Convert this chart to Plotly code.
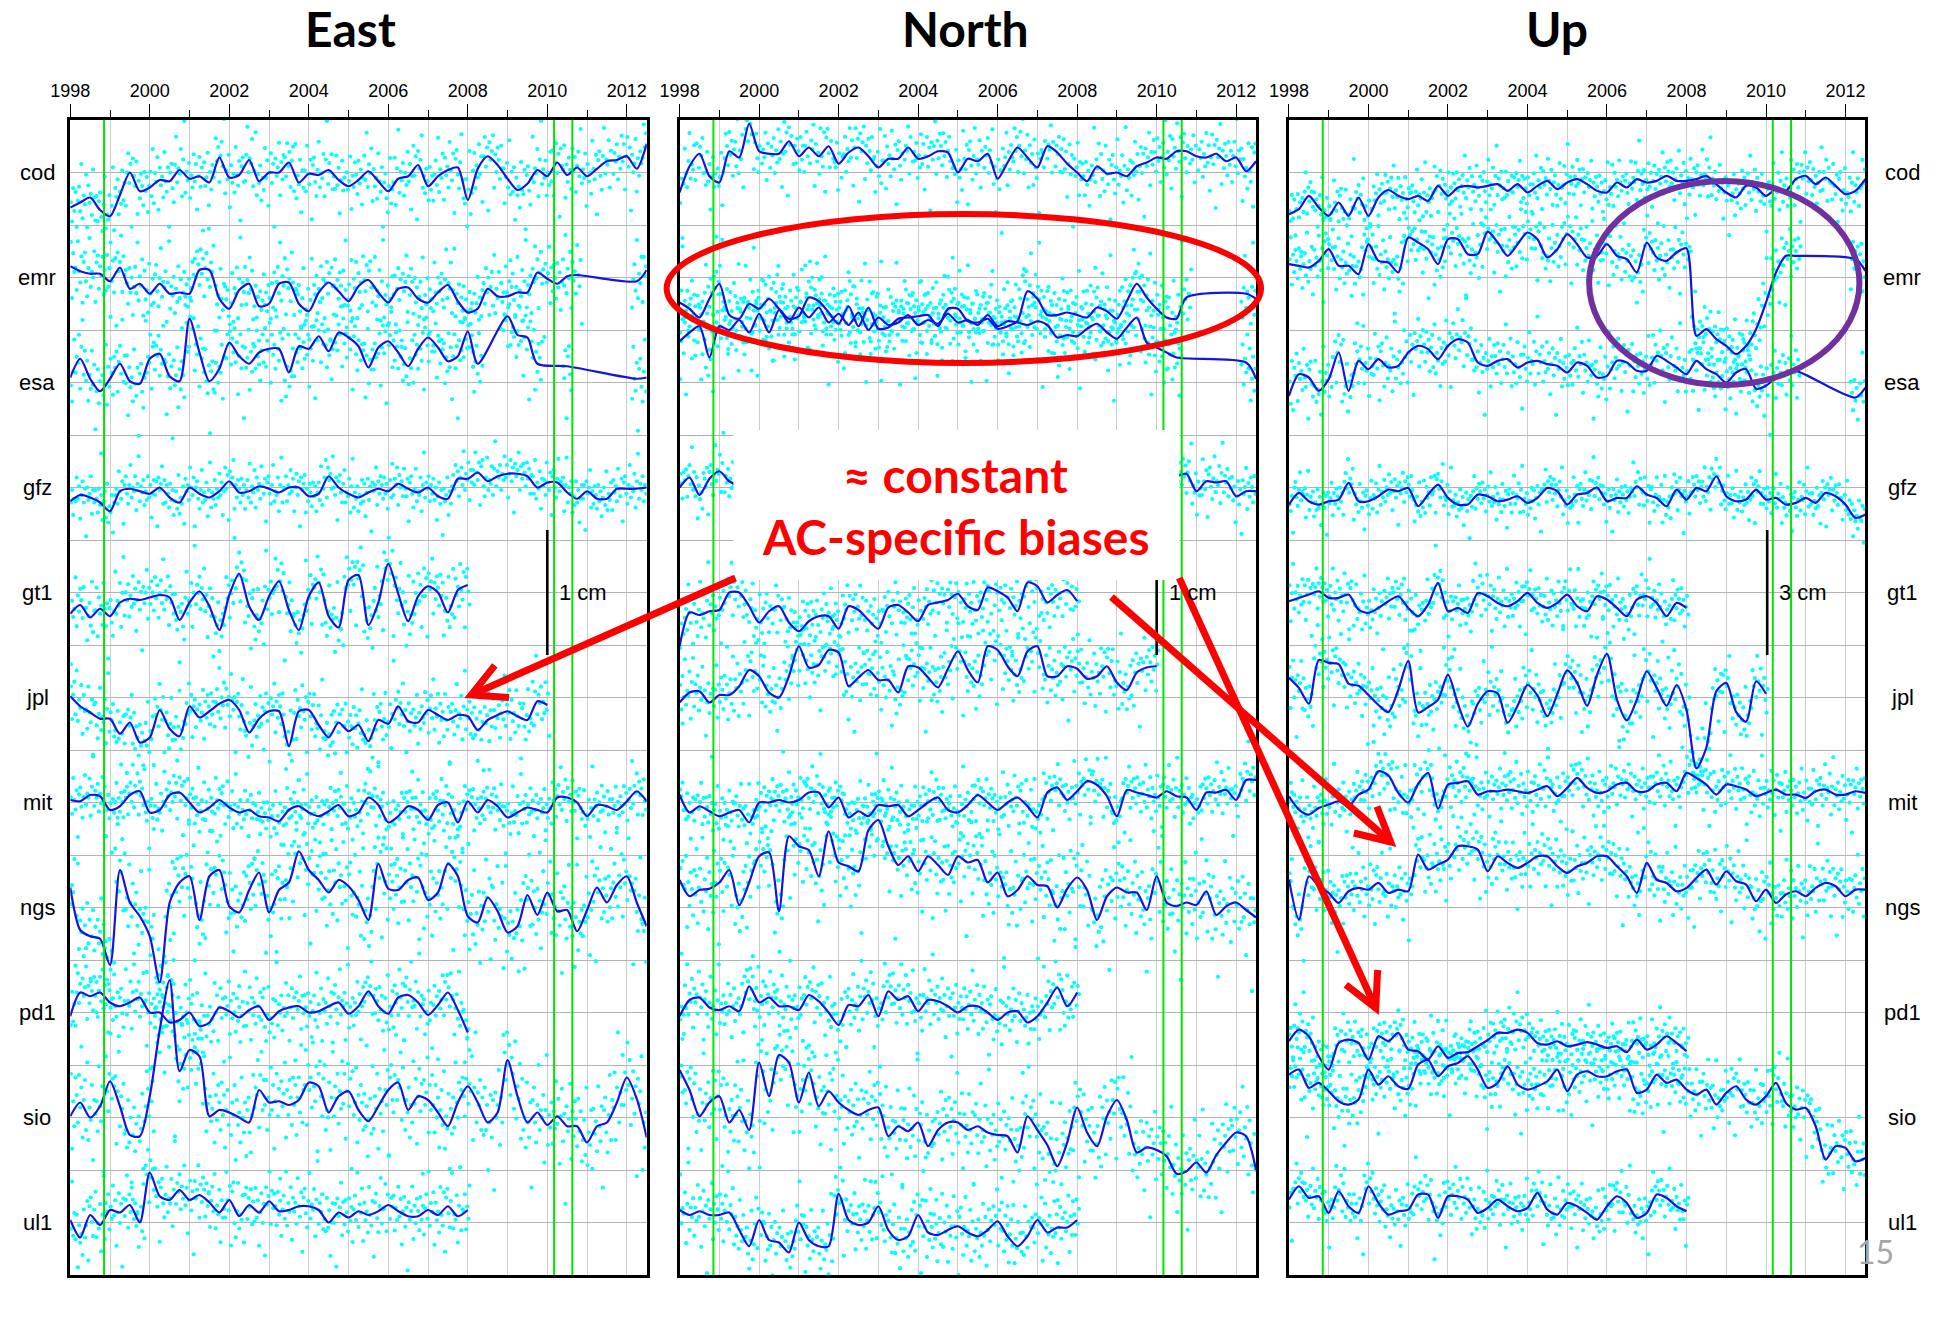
import math
import plotly.graph_objects as go

# ---------------------------------------------------------------------------
# Figure geometry (pixels)
# ---------------------------------------------------------------------------
W, H = 1945, 1323
PANEL_X = [(67, 645), (678, 1256), (1289, 1867)]
PANEL_TOP, PANEL_BOTTOM = 120, 1275

# ---------------------------------------------------------------------------
# Data
# ---------------------------------------------------------------------------
START_YEAR = 1998.0
NODE_STEP = 0.25                      # smoothed series: one value per quarter
X_RANGE = [1998.0, 2012.5]
TICK_YEARS = list(range(1998, 2013, 2))
MINOR_YEARS = list(range(1999, 2013, 2))
EVENT_EPOCHS = [1998.85, 2010.17, 2010.63]

COMPONENTS = ["East", "North", "Up"]
CENTRES = ["cod", "emr", "esa", "gfz", "gt1", "jpl", "mit", "ngs", "pd1", "sio", "ul1"]
MM_PER_ROW = [8.4, 8.4, 25.2]          # vertical spacing between centres, in mm
SCALE_BAR_MM = [10, 10, 30]
SCALE_BAR_TEXT = ["1 cm", "1 cm", "3 cm"]
SCALE_BAR_YEAR = [2010.0, 2010.0, 2010.03]

N = None

# Smoothed offsets (mm), quarterly from 1998.00 ---------------- East
EAST_COD = [-2.8, -2.4, -2.0, -3.0, -3.5, -1.8, 0.0, -1.5, -1.2, -0.6, -0.7, 0.2,
            -0.5, -0.3, -0.8, 1.2, -0.4, -0.2, 1.0, -0.7, 0.0, 0.0, 0.8, -0.8,
            -0.1, -0.2, 0.2, -0.6, -1.1, -0.6, 0.1, -0.7, -1.5, -0.5, -0.3, 0.6,
            -1.1, -0.3, 0.2, 0.4, -2.2, 0.3, 1.3, 0.6, -0.5, -1.4, -0.9, 0.2,
            -0.3, 0.8, -0.2, 0.4, -0.3, 0.3, 0.9, 1.0, 1.3, 0.3, 2.3]
EAST_EMR = [0.9, 0.5, 0.3, 0.3, -0.3, 0.8, -0.9, -0.5, -1.3, -0.5, -1.3, -1.2,
            -1.3, 0.6, 0.6, -1.7, -2.5, -1.0, -0.5, -2.3, -2.1, -0.5, -0.4, -2.1,
            -2.7, -1.2, -0.4, -1.1, -1.9, -0.7, -0.2, -1.2, -2.0, -0.9, -0.8, -1.7,
            -2.0, -1.2, -0.6, -1.9, -2.8, -2.5, -0.9, -1.5, -1.5, -1.2, -1.2, 0.4,
            -0.1, -0.5, 0.1, 0.2, N, N, N, N, N, -0.3, 0.6]
EAST_ESA = [0.4, 1.9, 0.3, -0.7, 0.3, 1.5, 0.1, -0.1, 1.9, 2.3, 0.5, 0.1,
            5.1, 2.4, 0.1, 1.1, 3.2, 2.1, 1.5, 2.4, 2.7, 2.7, 0.8, 2.9,
            2.7, 3.7, 2.5, 4.0, 3.6, 2.9, 1.2, 2.8, 3.3, 2.4, 1.3, 2.7,
            3.6, 2.8, 1.7, 2.1, 4.1, 1.5, N, N, 5.3, 3.8, 3.6, 1.5,
            N, N, 1.3, N, N, N, N, N, N, 0.3, 0.4]
EAST_GFZ = [-1.1, -0.6, -0.8, -1.2, -1.9, -0.3, -0.1, -0.3, -0.5, 0.0, -0.8, -1.2,
            0.0, -0.5, -0.8, -0.3, 0.5, -0.4, -0.3, 0.1, -0.1, -0.4, 0.0, 0.0,
            -0.7, -0.5, 0.9, 0.0, -0.5, -0.8, -0.4, -0.1, -0.3, 0.3, -0.1, -0.4,
            0.0, -0.7, -0.9, 0.7, 0.7, 1.2, 0.5, 0.9, 1.1, 1.1, 0.9, 0.0,
            0.4, 0.4, -0.4, -0.9, -0.3, -0.9, -0.9, -0.1, -0.1, -0.1, 0.0]
EAST_GT1 = [-1.7, -1.0, -2.0, -1.3, -1.9, -0.8, -0.5, -0.6, -0.4, -0.2, -0.4, -2.2,
            -0.8, 0.1, -1.1, -3.0, -0.2, 1.5, -1.1, -2.2, -0.3, 0.9, -1.4, -3.0,
            -0.3, 0.8, -1.9, -2.8, 1.0, 1.4, -2.6, -0.8, 2.3, -0.1, -2.3, -0.3,
            0.5, 0.0, -1.6, 0.2, 0.6]
EAST_JPL = [0.1, -0.7, -1.2, -1.7, -1.7, -2.9, -2.0, -3.6, -3.2, -1.0, -2.5, -3.1,
            -0.7, -1.6, -1.1, -0.5, -0.2, -1.0, -2.8, -1.7, -1.1, -1.1, -3.9, -1.1,
            -1.0, -2.2, -3.2, -2.0, -2.7, -2.2, -3.5, -1.8, -2.1, -0.7, -1.9, -2.0,
            -1.0, -1.4, -1.8, -1.4, -1.5, -2.6, -1.8, -1.4, -1.1, -1.5, -1.8, -0.3,
            -0.6]
EAST_MIT = [0.2, 0.1, 0.6, 0.5, -0.6, -0.3, 0.6, 0.9, -0.8, -0.6, 0.6, 0.8,
            0.0, -0.8, -0.4, 0.2, -0.4, -0.8, -0.6, -1.1, -1.2, -1.5, -0.6, -0.3,
            -0.8, -1.1, -0.7, -0.2, -1.1, -0.8, 0.4, -0.2, -1.6, -1.1, -0.3, -0.6,
            -1.4, -0.2, 0.0, -1.6, 0.1, -0.8, 0.2, -0.3, -1.2, -0.8, -0.4, -0.6,
            -0.8, 0.4, 0.4, 0.0, -1.1, -0.2, -0.3, -0.6, 0.1, 0.9, 0.1]
EAST_NGS = [1.6, -1.8, -2.3, -2.5, -4.6, 3.0, 0.4, -0.7, -2.3, -6.0, 0.4, 2.0,
            2.5, -1.0, 2.5, 3.0, 0.1, -0.4, 1.4, 2.8, -0.4, 1.4, 2.0, 4.5,
            3.0, 2.2, 1.2, 2.2, 1.7, 0.6, -1.0, 3.5, 1.5, 1.4, 2.2, 2.4,
            0.6, 1.2, 3.5, 2.5, -0.7, -1.2, 0.8, -0.3, -2.0, -1.5, 1.0, -0.6,
            1.2, -0.3, -0.2, -1.9, -0.2, 1.6, 0.4, 1.8, 2.5, 0.4, -1.5]
EAST_PD1 = [-0.3, 1.6, 1.3, 1.6, 0.8, 0.5, 0.8, 1.2, 0.0, 0.0, -0.8, -0.6,
            0.0, -1.1, -0.8, 0.4, 0.1, -0.4, 0.2, 0.5, -0.6, 0.1, 0.4, 0.5,
            0.0, 0.1, 0.5, 0.8, -0.1, 0.5, 1.7, 0.5, -0.1, 1.2, 1.4, 0.8,
            -0.2, 0.6, 1.6, 0.2, -1.6]
EAST_SIO = [0.1, 1.2, 0.0, 0.9, 2.9, 0.9, -1.4, -1.5, 1.7, 7.0, 11.0, 3.7,
            5.4, 4.9, 0.1, 0.6, 0.4, 0.0, -0.4, 2.2, 1.2, 1.3, 1.0, 1.4,
            2.8, 2.5, 0.4, 1.7, 2.1, 0.6, -0.3, 0.9, 2.2, 2.8, 0.6, 1.7,
            1.4, 0.4, -0.7, 1.2, 2.5, 1.2, -0.4, 0.4, 4.6, 1.7, -0.4, 0.4,
            -0.6, 0.1, -0.7, -0.7, -2.0, -0.7, -0.4, 1.2, 3.2, 1.5, -1.6]
EAST_UL1 = [0.2, -1.2, 0.6, -0.2, 1.0, 0.8, 1.4, 0.0, 4.0, 2.1, 1.8, 2.6,
            1.8, 2.2, 1.6, 0.8, 1.8, 0.5, 1.4, 0.8, 1.7, 0.9, 1.0, 1.3,
            1.3, 1.0, 0.0, 0.8, 0.4, 0.9, 0.6, 0.9, 1.4, 0.9, 0.5, 0.5,
            1.0, 0.6, 1.3, 0.5, 1.0]

# ------------------------------------------------------------- North
NORTH_COD = [-1.6, 0.5, 1.5, -0.3, -0.8, 1.7, 1.2, 3.9, 1.7, 1.5, 1.5, 2.5,
             1.3, 2.0, 1.3, 2.1, 0.7, 1.6, 2.0, 1.3, 0.4, 1.1, 1.1, 2.0,
             1.1, 1.3, 1.7, 1.6, 0.0, 1.1, 0.9, 1.5, -0.5, 0.8, 2.0, 1.2,
             0.4, 2.1, 1.6, 0.7, 0.0, -0.7, 0.5, -0.1, 0.0, -0.3, 0.5, 0.8,
             1.2, 1.1, 1.7, 1.7, 1.3, 1.2, 1.5, 0.9, 1.2, 0.1, 0.9]
NORTH_EMR = [-2.0, -2.5, -3.2, -1.7, -0.5, -3.0, -3.3, -2.1, -2.5, -1.7, -2.5, -3.3,
             -3.1, -1.6, -1.9, -2.8, -3.7, -2.3, -3.9, -2.4, -4.1, -4.0, -3.3, -3.2,
             -3.1, -3.0, -3.9, -2.5, -2.5, -3.5, -3.6, -3.3, -4.1, -3.9, -3.5, -1.1,
             -1.7, -3.0, -3.0, -2.8, -3.0, -3.2, -2.4, -2.7, -3.3, -1.9, -0.5, -1.6,
             -2.5, -3.2, -3.3, -1.6, N, N, N, N, N, -1.3, -1.7]
NORTH_ESA = [3.3, 4.0, 4.5, 2.0, 4.5, 4.2, 5.0, 4.0, 5.5, 4.0, 5.8, 4.8,
             6.0, 5.2, 6.0, 4.8, 5.5, 4.6, 5.6, 4.2, 5.2, 4.6, 4.8, 5.4,
             4.6, 5.0, 4.7, 5.5, 4.8, 5.0, 4.6, 5.4, 4.5, 4.9, 4.8, 4.6,
             4.9, 4.6, 3.6, 3.8, 3.7, 4.3, 4.7, 4.0, 3.5, 4.4, 5.2, 3.2,
             2.8, 2.4, 2.0, N, N, N, N, N, N, 1.6, 0.3]
NORTH_GFZ = [0.0, 0.8, -0.6, 0.7, 1.3, 0.5, 0.2, 0.6, 0.3, 0.8, 0.1, 0.5,
             0.2, 0.7, 0.0, 0.4, 0.6, 0.1, 0.5, 0.8, 0.2, 0.6, 0.0, 0.5,
             0.3, 0.7, 0.1, 0.4, 0.6, 0.0, 0.5, 0.3, 0.7, 0.1, 0.4, 0.6,
             0.0, 0.5, 0.2, 0.8, 0.3, 0.6, 0.1, 0.5, 0.4, 0.7, 0.2, 0.6,
             0.3, 0.8, 0.9, 1.1, -0.3, 0.5, 0.4, 0.5, -0.7, -0.3, -0.3]
NORTH_GT1 = [-4.3, -1.6, -1.8, -1.5, -1.4, 0.0, 0.0, -1.1, -2.4, -1.5, -1.1, -2.4,
             -3.1, -2.3, -1.9, -1.9, -2.9, -1.1, -1.4, -2.2, -2.9, -1.2, -1.0, -1.6,
             -2.3, -1.0, -0.8, -0.6, -0.1, -1.1, -1.4, 0.4, 0.1, -0.4, -1.5, 0.8,
             0.5, -0.8, -0.2, 0.2, -0.7]
NORTH_JPL = [-0.4, 0.4, 0.5, -0.4, 0.2, 0.2, 0.9, 2.2, 1.7, 0.4, 0.0, 1.7,
             4.1, 2.4, 2.6, 3.8, 3.6, 0.9, 1.6, 2.2, 1.4, 1.4, 0.4, 2.5,
             2.4, 1.6, 0.8, 2.3, 3.7, 2.2, 1.2, 4.1, 3.8, 2.5, 1.7, 3.7,
             4.1, 1.7, 1.7, 2.5, 2.3, 1.5, 1.7, 2.5, 1.2, 0.6, 2.0, 2.4,
             2.5]
NORTH_MIT = [0.6, -0.8, -0.3, -0.7, -1.1, -0.8, -0.6, -1.6, 0.0, 0.0, 0.2, 0.0,
             0.2, 0.8, 0.8, -0.4, 0.4, -1.2, -0.7, -1.1, -0.2, -0.3, -0.2, -1.1,
             -0.6, 0.0, 0.4, -0.6, -0.8, -0.2, 0.6, 0.0, -0.6, 0.0, 0.4, -0.3,
             -1.2, 0.8, 1.2, 0.2, 0.9, 1.7, 1.4, 0.5, -1.1, 1.0, 0.8, 0.6,
             0.4, 0.9, 0.5, 0.4, -0.6, 0.8, 0.8, 1.0, 0.2, 1.8, 1.8]
NORTH_NGS = [2.2, 0.9, 1.4, 1.5, 2.0, 3.0, 0.2, 2.0, 4.1, 4.4, -0.3, 5.7,
             4.9, 4.6, 2.5, 6.1, 3.6, 3.3, 2.9, 6.2, 7.0, 4.9, 3.4, 4.1,
             2.9, 4.1, 3.4, 2.6, 4.1, 3.6, 3.8, 2.0, 2.8, 0.9, 1.4, 2.5,
             1.8, 1.7, 0.0, 1.5, 2.4, 1.4, -1.0, 0.9, 1.6, 1.2, 1.2, -0.2,
             2.5, 0.4, 0.1, 0.4, 0.2, 1.3, -0.6, 0.1, 0.4, -0.2, -0.8]
NORTH_PD1 = [-0.3, 1.0, 1.2, 0.4, 0.2, 0.5, 0.1, 2.1, 0.8, 1.2, 0.5, 0.5,
             0.2, 1.4, 0.9, 0.0, -1.0, 0.6, 0.5, 1.4, -0.3, 1.7, 1.0, 1.3,
             0.1, 1.0, 0.9, 0.5, 0.0, 0.5, 0.5, 0.0, -0.6, 0.0, 0.1, -0.8,
             -0.3, 0.8, 2.0, 0.5, 1.6]
NORTH_SIO = [3.8, 2.2, 0.1, 1.2, 1.7, -0.4, 0.6, -1.0, 4.4, 1.7, 5.0, 4.4,
             1.2, 3.6, 0.9, 2.1, 1.2, 0.6, 0.2, 0.6, 0.8, -1.5, -0.7, -1.1,
             -0.4, -2.3, -1.0, -0.4, -0.4, -1.0, -0.7, -1.2, -1.4, -1.5, -2.8, 0.1,
             -1.0, -2.2, -3.9, -2.0, 0.8, -1.2, -2.3, 0.1, 1.4, -0.2, -2.8, -2.4,
             -2.6, -3.1, -4.5, -4.3, -3.6, -4.4, -3.0, -2.0, -1.2, -1.5, -4.2]
NORTH_UL1 = [1.0, 0.6, 0.9, 0.6, 0.6, 0.8, -0.6, -1.9, 0.2, -1.4, -1.6, -2.4,
             0.0, -1.4, -1.9, -1.9, 2.3, 0.2, -0.2, 0.0, 1.3, -0.6, -1.4, -1.1,
             0.6, -0.8, -1.0, -0.6, -0.3, -0.8, -1.1, -0.6, 0.1, -1.1, -1.9, -1.1,
             0.2, -0.8, -0.4, -0.4, 0.2]

# ---------------------------------------------------------------- Up
UP_COD = [-10.0, -8.8, -5.6, -8.4, -10.4, -7.2, -10.4, -6.0, -10.4, -6.0, -4.2, -5.6,
          -6.4, -5.6, -6.8, -3.2, -5.6, -3.6, -3.2, -3.6, -3.2, -2.8, -4.4, -2.8,
          -4.8, -3.2, -2.0, -4.0, -2.4, -1.6, -2.8, -4.4, -4.8, -2.4, -3.6, -1.6,
          -2.4, -2.0, -0.8, -2.0, -2.0, -1.6, -0.8, -2.8, -4.8, -6.0, -3.2, -3.6,
          -5.6, -4.0, -4.4, -1.6, -0.8, -2.8, -1.2, -3.2, -5.2, -4.4, -1.6]
UP_EMR = [3.2, 2.8, 2.4, 4.0, 6.8, 2.8, 2.8, 0.8, 8.0, 4.0, 3.6, 1.2,
          9.6, 8.4, 6.8, 3.2, 9.2, 9.2, 5.6, 5.6, 11.0, 8.4, 5.2, 8.0,
          10.8, 9.2, 4.8, 6.8, 10.4, 8.0, 4.8, 5.2, 8.0, 5.2, 4.4, 1.2,
          8.4, 4.8, 4.0, 6.0, 7.0, -14.0, -12.4, -14.8, -16.4, -18.4, -16.4, -12.4,
          -6.0, 1.2, 5.2, 5.2, N, N, N, N, N, 4.4, 1.6]
UP_ESA = [-3.2, 2.0, 1.2, -2.0, 0.8, 7.2, -2.0, 5.2, 3.2, 5.6, 3.6, 4.0,
          7.2, 8.8, 8.0, 5.6, 8.8, 10.4, 9.6, 4.8, 4.0, 5.2, 5.6, 3.6,
          4.8, 5.2, 4.4, 4.0, 2.4, 4.8, 4.0, 1.2, 1.6, 5.2, 4.8, 2.8,
          2.8, 6.4, 5.2, 3.6, 2.0, 5.2, 3.2, 2.0, 0.0, 2.4, 3.2, -1.5,
          -0.8, 1.2, 2.4, 2.8, N, N, N, N, N, -3.6, -1.2]
UP_GFZ = [-4.1, -1.3, -3.3, -4.1, -3.3, -2.9, 1.1, -3.3, -3.3, -2.1, -0.5, -0.9,
          -0.1, -4.5, -1.7, 0.7, -2.5, -4.1, -4.1, -1.7, -2.1, -3.3, -2.9, -2.1,
          -3.7, -2.5, -0.1, -0.9, -4.1, -1.7, -1.3, 0.0, -3.3, -2.5, -2.5, 0.3,
          -1.7, -2.5, -4.5, -0.5, -2.9, -0.1, -0.9, 2.7, -2.1, -3.3, -2.9, -0.5,
          -2.9, -2.5, -4.1, -3.7, -2.5, -3.7, -1.3, -2.1, -4.1, -7.3, -6.5]
UP_GT1 = [-2.1, -1.3, -0.5, 0.3, -1.3, -1.3, -0.5, -4.1, -4.9, -3.7, -2.1, -0.9,
          -3.7, -5.7, -2.9, 2.3, -4.5, -3.7, -4.9, -0.1, -0.9, -2.5, -3.3, -2.1,
          -0.1, -2.5, -3.7, -2.5, -0.5, -3.3, -4.5, -0.9, -1.7, -3.7, -5.7, -1.7,
          -0.9, -2.5, -5.7, -2.5, -3.7]
UP_JPL = [4.7, 2.3, -1.5, 9.0, 8.3, 8.0, 3.3, 2.8, 0.6, -1.8, -3.5, 1.8,
          8.8, -3.6, -2.3, -0.5, 5.5, -1.5, -7.0, -1.5, 1.5, 1.0, -6.1, -2.0,
          3.0, 0.5, -4.5, 0.8, 6.5, 3.5, -2.0, 5.5, 10.5, -0.5, -5.5, -0.5,
          6.3, 2.3, -2.0, 3.0, -3.0, -17.0, -12.0, 1.5, 3.5, -3.5, -5.8, 3.9,
          0.9]
UP_MIT = [1.5, -1.7, -2.9, -1.3, -0.5, 0.3, -0.9, 1.9, 3.1, 7.5, 6.5, 2.3,
          0.0, 4.5, 7.1, -1.5, 4.3, 4.7, 5.1, 1.9, 2.7, 2.7, 3.1, 2.7,
          2.3, 3.1, 3.9, 1.5, 3.5, 5.9, 3.5, 2.3, 2.7, 4.3, 4.7, 2.7,
          2.7, 4.3, 4.7, 2.7, 7.1, 5.9, 4.3, 1.9, 4.3, 3.9, 3.1, 1.5,
          2.3, 3.1, 1.9, 1.9, 1.1, 2.7, 3.1, 1.9, 1.9, 2.7, 2.3]
UP_NGS = [6.7, -2.9, 7.5, 5.1, 3.5, 1.1, 3.9, 4.7, 4.3, 5.9, 3.5, 4.3,
          3.9, 12.7, 9.1, 10.3, 11.5, 14.7, 14.7, 13.9, 8.7, 12.3, 10.7, 9.5,
          10.7, 12.3, 12.3, 9.9, 8.3, 9.9, 10.7, 12.3, 12.3, 9.9, 7.5, 3.5,
          10.7, 6.7, 5.9, 3.9, 4.7, 7.1, 9.1, 5.5, 8.7, 6.3, 5.5, 1.5,
          4.3, 1.1, 3.1, 3.9, 2.7, 4.7, 5.9, 5.1, 2.7, 4.3, 4.3]
UP_PD1 = [-6.9, -4.1, -5.7, -10.5, -13.7, -7.3, -6.5, -7.3, -11.3, -5.7, -6.9, -4.9,
          -8.9, -9.3, -11.3, -8.1, -10.9, -9.7, -9.5, -8.1, -6.6, -4.9, -4.9, -4.1,
          -4.9, -7.3, -7.7, -6.9, -8.1, -7.7, -7.1, -7.7, -8.5, -8.1, -9.5, -6.5,
          -8.9, -7.7, -5.7, -7.3, -9.3]
UP_SIO = [10.3, 11.5, 7.1, 8.3, 6.3, 3.9, 3.1, 4.3, 11.5, 7.9, 9.9, 7.5,
          6.9, 12.7, 13.8, 9.9, 12.3, 13.1, 14.7, 11.5, 7.1, 8.3, 12.3, 7.9,
          6.7, 7.5, 8.7, 11.5, 6.3, 10.3, 11.1, 9.9, 9.9, 11.1, 11.5, 5.9,
          6.7, 10.3, 8.3, 9.1, 6.7, 5.5, 6.7, 3.1, 5.9, 7.5, 4.3, 3.1,
          5.1, 8.3, 3.5, 1.9, 2.3, -2.1, -10.1, -6.9, -7.3, -10.5, -9.7]
UP_UL1 = [5.5, 8.7, 5.9, 6.3, 2.3, 7.5, 3.9, 2.3, 8.7, 4.7, 1.9, 2.7,
          3.1, 6.7, 6.7, 1.1, 6.3, 6.3, 5.5, 2.3, 3.5, 5.5, 3.9, 2.7,
          3.5, 7.1, 3.1, 1.9, 4.7, 3.9, 2.3, 0.7, 3.9, 6.3, 4.7, 1.1,
          2.3, 6.7, 5.9, 3.9, 2.7]

SERIES = [
    [EAST_COD, EAST_EMR, EAST_ESA, EAST_GFZ, EAST_GT1, EAST_JPL,
     EAST_MIT, EAST_NGS, EAST_PD1, EAST_SIO, EAST_UL1],
    [NORTH_COD, NORTH_EMR, NORTH_ESA, NORTH_GFZ, NORTH_GT1, NORTH_JPL,
     NORTH_MIT, NORTH_NGS, NORTH_PD1, NORTH_SIO, NORTH_UL1],
    [UP_COD, UP_EMR, UP_ESA, UP_GFZ, UP_GT1, UP_JPL,
     UP_MIT, UP_NGS, UP_PD1, UP_SIO, UP_UL1],
]

# Typical scatter of the individual solutions about the smoothed curve (mm)
SOLUTION_SPREAD_MM = [
    [1.4, 1.5, 1.6, 1.0, 1.3, 1.3, 1.1, 1.9, 1.4, 2.0, 1.4],
    [1.4, 1.6, 1.6, 1.1, 1.4, 1.4, 1.1, 1.9, 1.3, 1.8, 1.5],
    [3.3, 3.8, 3.8, 2.6, 3.2, 3.8, 3.2, 3.8, 3.2, 3.8, 3.2],
]
# Normalised residual sequence of the individual solutions
SOLUTION_RESIDUALS = [0.3, -0.8, 1.1, -0.2, 0.6, -1.4, 0.1, 0.9, -0.5, 2.2, -0.9, 0.4,
                      -0.1, 1.3, -1.7, 0.7, -0.3, 0.2, -1.0, 1.6, 0.0, -0.6, 0.8, -2.6,
                      0.5, 1.0, -0.4, -1.2, 0.3, 1.9, -0.7, 0.1, -0.2, 1.2, -1.5, 0.6,
                      2.8, -0.8, 0.4, -0.1, 0.9, -1.1, 0.2, -0.5, 1.4, -0.3, 0.7, -1.9,
                      0.0, 1.1, -0.6, 0.5, -3.1, 0.8, -0.2, 0.3, 1.7, -1.3, 0.6, -0.4, 1.0]
SOLUTIONS_PER_YEAR = 34

# ---------------------------------------------------------------------------
# Helpers
# ---------------------------------------------------------------------------
def px_x(x):
    """Horizontal pixel position -> paper fraction (page left inset 16.6 px)."""
    return (x - 16.6) / 0.9924 / W


def px_y(y):
    return 1 - y / H


def node_times(values):
    return [START_YEAR + i * NODE_STEP for i in range(len(values))]


def to_row_units(row, mm, mm_per_row):
    return None if mm is None else -row + mm / mm_per_row


BLUE = "#1414E0"
CYAN = "#00FFFF"
GREEN = "#00E600"
GRID_V = "#cdcdcd"
GRID_H = "#b3b3b3"
TICK_FONT = dict(family="Liberation Sans, Arial, sans-serif", size=18, color="black")
LABEL_FONT = dict(family="Liberation Sans, Arial, sans-serif", size=22, color="black")

fig = go.Figure()

# ---------------------------------------------------------------------------
# Individual solutions (dots) and smoothed curves
# ---------------------------------------------------------------------------
for p, comp in enumerate(COMPONENTS):
    xa = "x" if p == 0 else f"x{p + 1}"
    ya = "y" if p == 0 else f"y{p + 1}"
    dot_x, dot_y = [], []
    for r, values in enumerate(SERIES[p]):
        valid = [i for i, v in enumerate(values) if v is not None]
        t_first = START_YEAR + valid[0] * NODE_STEP
        t_last = START_YEAR + valid[-1] * NODE_STEP
        offset = (p * 11 + r) * 13
        k = 0
        while True:
            t = START_YEAR + (k + 0.5) / SOLUTIONS_PER_YEAR
            if t > min(t_last + 0.06, X_RANGE[1]):
                break
            if t >= t_first:
                idx = int(round((t - START_YEAR) / NODE_STEP))
                if 0 <= idx < len(values) and values[idx] is not None:
                    res = SOLUTION_RESIDUALS[(k + offset) % len(SOLUTION_RESIDUALS)]
                    mm = values[idx] + res * SOLUTION_SPREAD_MM[p][r]
                    dot_x.append(t)
                    dot_y.append(to_row_units(r, mm, MM_PER_ROW[p]))
            k += 1
    fig.add_trace(go.Scatter(x=dot_x, y=dot_y, mode="markers", xaxis=xa, yaxis=ya,
                             marker=dict(color=CYAN, size=4.2, line=dict(width=0)),
                             hoverinfo="skip", showlegend=False))

for p, comp in enumerate(COMPONENTS):
    xa = "x" if p == 0 else f"x{p + 1}"
    ya = "y" if p == 0 else f"y{p + 1}"
    for r, values in enumerate(SERIES[p]):
        fig.add_trace(go.Scatter(
            x=node_times(values),
            y=[to_row_units(r, v, MM_PER_ROW[p]) for v in values],
            mode="lines", xaxis=xa, yaxis=ya, connectgaps=True,
            line=dict(color=BLUE, width=2.2, shape="spline", smoothing=0.75),
            name=f"{CENTRES[r]} {comp}", showlegend=False))

# ---------------------------------------------------------------------------
# Axes
# ---------------------------------------------------------------------------
y_dom = [px_y(PANEL_BOTTOM), px_y(PANEL_TOP)]
half_rows = [-10.5 + 0.5 * i for i in range(23)]
layout_axes = {}
for p in range(3):
    sfx = "" if p == 0 else str(p + 1)
    x0, x1 = PANEL_X[p]
    common_x = dict(range=X_RANGE, tickvals=TICK_YEARS, ticks="outside", ticklen=13,
                    tickwidth=1.3, tickcolor="black", tickfont=TICK_FONT,
                    zeroline=False, fixedrange=True,
                    minor=dict(tickvals=MINOR_YEARS, ticks="outside", ticklen=7,
                               tickwidth=1.3, tickcolor="black",
                               showgrid=True, gridcolor=GRID_V, gridwidth=1))
    layout_axes[f"xaxis{sfx}"] = dict(
        domain=[px_x(x0), px_x(x1)], anchor=f"y{sfx}", side="top",
        showline=True, linewidth=3, linecolor="black", mirror=True,
        showgrid=True, gridcolor=GRID_V, gridwidth=1, **common_x)
    layout_axes[f"xaxis{p + 4}"] = dict(
        overlaying=f"x{sfx}", anchor=f"y{sfx}", side="bottom",
        showline=False, showgrid=False, **common_x)
    layout_axes[f"yaxis{sfx}"] = dict(
        domain=y_dom, anchor=f"x{sfx}", range=[-10.5, 0.5],
        tickvals=half_rows, showticklabels=False, ticks="",
        showgrid=True, gridcolor=GRID_H, gridwidth=1, zeroline=False,
        showline=True, linewidth=3, linecolor="black", mirror=True, fixedrange=True)

fig.update_layout(width=W, height=H, margin=dict(l=0, r=0, t=0, b=0),
                  paper_bgcolor="white", plot_bgcolor="white", showlegend=False,
                  **layout_axes)

# ---------------------------------------------------------------------------
# Shapes: event epochs, scale bars, callout box, ellipses, arrows
# ---------------------------------------------------------------------------
shapes = []
for p in range(3):
    sfx = "" if p == 0 else str(p + 1)
    for ep in EVENT_EPOCHS:
        shapes.append(dict(type="line", xref=f"x{sfx}", yref=f"y{sfx} domain",
                           x0=ep, x1=ep, y0=0, y1=1, layer="above",
                           line=dict(color=GREEN, width=2)))
    half = SCALE_BAR_MM[p] / 2 / MM_PER_ROW[p]
    shapes.append(dict(type="line", xref=f"x{sfx}", yref=f"y{sfx}",
                       x0=SCALE_BAR_YEAR[p], x1=SCALE_BAR_YEAR[p],
                       y0=-4 - half, y1=-4 + half, layer="above",
                       line=dict(color="black", width=2.6)))

# white callout box over the North panel
shapes.append(dict(type="rect", xref="paper", yref="paper",
                   x0=px_x(732), x1=px_x(1179), y0=px_y(580), y1=px_y(430),
                   fillcolor="white", line=dict(width=0), layer="above"))
# ellipses
shapes.append(dict(type="circle", xref="paper", yref="paper",
                   x0=px_x(665), x1=px_x(1261), y0=px_y(363), y1=px_y(214),
                   line=dict(color="#FF0000", width=6), layer="above"))
shapes.append(dict(type="circle", xref="paper", yref="paper",
                   x0=px_x(1590), x1=px_x(1861), y0=px_y(385), y1=px_y(181),
                   line=dict(color="#7030A0", width=6), layer="above"))

# red arrows (pixel start -> tip)
ARROWS = [((734, 578), (469, 695)), ((1111, 597), (1391, 842)), ((1179, 578), (1376, 1008))]
for (sx, sy), (tx, ty) in ARROWS:
    shapes.append(dict(type="line", xref="paper", yref="paper",
                       x0=px_x(sx), y0=px_y(sy), x1=px_x(tx), y1=px_y(ty),
                       line=dict(color="#FF0000", width=7), layer="above"))
    ang = math.atan2(sy - ty, sx - tx)
    arms = []
    for da in (-0.48, 0.48):
        arms.append((tx + 38 * math.cos(ang + da), ty + 38 * math.sin(ang + da)))
    path = (f"M {px_x(arms[0][0])},{px_y(arms[0][1])} L {px_x(tx)},{px_y(ty)} "
            f"L {px_x(arms[1][0])},{px_y(arms[1][1])}")
    shapes.append(dict(type="path", xref="paper", yref="paper", path=path,
                       line=dict(color="#FF0000", width=7), layer="above"))

fig.update_layout(shapes=shapes)

# ---------------------------------------------------------------------------
# Text
# ---------------------------------------------------------------------------
ann = []
TITLE_X = [348, 965, 1558]
for p, comp in enumerate(COMPONENTS):
    ann.append(dict(xref="paper", yref="paper", x=px_x(TITLE_X[p]), y=px_y(28),
                    text=f"<b>{comp}</b>", showarrow=False,
                    font=dict(family="Lato, Open Sans, sans-serif", size=48, color="black"),
                    xanchor="center", yanchor="middle"))

for r, name in enumerate(CENTRES):
    for xpx in (34, 1904):
        ann.append(dict(xref="paper", yref="y", x=px_x(xpx), y=-r, text=name,
                        showarrow=False, font=LABEL_FONT,
                        xanchor="center", yanchor="middle"))

for p in range(3):
    sfx = "" if p == 0 else str(p + 1)
    ann.append(dict(xref=f"x{sfx}", yref=f"y{sfx}", x=SCALE_BAR_YEAR[p], y=-4,
                    text=SCALE_BAR_TEXT[p], showarrow=False, xanchor="left",
                    xshift=10, yanchor="middle", font=LABEL_FONT))

BIAS_FONT = dict(family="Lato, Open Sans, sans-serif", size=48, color="#FF0000")
ann.append(dict(xref="paper", yref="paper", x=px_x(955), y=px_y(474),
                text="<b>\u2248 constant</b>", showarrow=False, font=BIAS_FONT,
                xanchor="center", yanchor="middle"))
ann.append(dict(xref="paper", yref="paper", x=px_x(955), y=px_y(536),
                text="<b>AC-specific biases</b>", showarrow=False, font=BIAS_FONT,
                xanchor="center", yanchor="middle"))
ann.append(dict(xref="paper", yref="paper", x=px_x(1877), y=px_y(1251),
                text="15", showarrow=False,
                font=dict(family="Lato, Open Sans, sans-serif", size=32, color="#A6A6A6"),
                xanchor="center", yanchor="middle"))

fig.update_layout(annotations=ann)

fig.write_html("out.html")
